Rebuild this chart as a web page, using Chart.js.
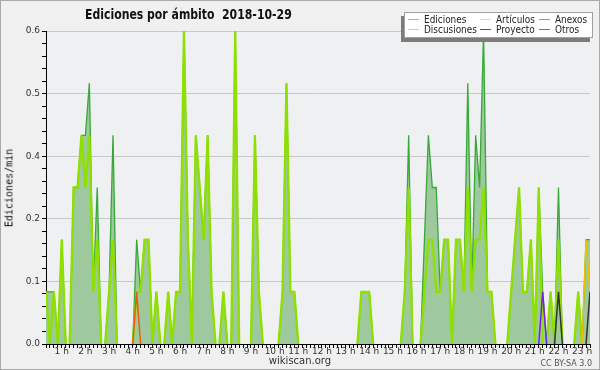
<!DOCTYPE html>
<html>
<head>
<meta charset="utf-8">
<script src="https://cdn.jsdelivr.net/npm/chart.js@4.4.0/dist/chart.umd.min.js"></script>
<style>
  body { margin: 0; background: #f0f0f0; }
  #wrap { position: relative; width: 600px; height: 370px; overflow: hidden; font-family: "DejaVu Sans", sans-serif; color: #111; }
  #chart { position: absolute; left: 0; top: 0; }
  #frame { position: absolute; left: 0; top: 0; width: 600px; height: 370px; box-sizing: border-box; border: 1px solid #a9a9a9; pointer-events: none; }
  #title { position: absolute; left: 85px; top: 6px; font-weight: bold; font-size: 14px; white-space: pre; transform-origin: 0 0; }
  #ytitle { position: absolute; left: 9px; top: 188px; font-family: "DejaVu Sans Mono", monospace; font-size: 10px; transform: translate(-50%, -50%) rotate(-90deg); white-space: nowrap; }
  #legend { position: absolute; left: 404px; top: 12px; width: 189px; height: 26px; box-sizing: border-box; background: #fff; border: 1px solid #a0a0a0; box-shadow: -3px 4px 0 #7c7c7c; }
  .mark { position: absolute; width: 11px; height: 1px; }
  .txt { position: absolute; font-size: 11px; line-height: 11px; white-space: nowrap; transform: translateY(-50%) scaleX(0.81); transform-origin: 0 50%; color: #222; }
  #site { position: absolute; left: 300px; top: 355px; transform: translateX(-50%); font-size: 10px; color: #333; }
  #lic { position: absolute; right: 8px; top: 359px; font-size: 8px; color: #555; }
</style>
</head>
<body>
<div id="wrap">
  <canvas id="chart" width="600" height="370"></canvas>
  <div id="title">Ediciones por ámbito  2018-10-29</div>
  <div id="ytitle">Ediciones/min</div>
  <div id="legend"></div>
  <div id="site">wikiscan.org</div>
  <div id="lic">CC BY-SA 3.0</div>
  <div id="frame"></div>
</div>
<script>
// 10-minute bins, first bin at 00:20, last at 23:20 (edits per minute)
const firstBin = 2;
const binsPerHour = 6;

const ediciones = [
  0.1, 0.1, 0.1, 0, 0.2, 0, 0, 0.3, 0.3, 0.4,
  0.4, 0.5, 0.1, 0.3, 0, 0, 0.1, 0.4, 0, 0, 0, 0,
  0, 0.2, 0.1, 0.2, 0.2, 0, 0.1, 0, 0, 0.1, 0, 0.1,
  0.1, 0.6, 0.2, 0, 0.4, 0.3, 0.2, 0.4, 0.1, 0, 0, 0.1,
  0, 0, 0.6, 0, 0, 0, 0, 0.4, 0.1, 0, 0, 0,
  0, 0, 0.1, 0.5, 0.1, 0.1, 0, 0, 0, 0, 0, 0,
  0, 0, 0, 0, 0, 0, 0, 0, 0, 0, 0.1, 0.1,
  0.1, 0, 0, 0, 0, 0, 0, 0, 0, 0.1, 0.4, 0,
  0, 0, 0.2, 0.4, 0.3, 0.3, 0.1, 0.2, 0.2, 0, 0.2, 0.2,
  0.1, 0.5, 0.1, 0.4, 0.3, 0.6, 0.1, 0.1, 0, 0, 0, 0,
  0.1, 0.2, 0.3, 0.1, 0.1, 0.2, 0, 0.3, 0.1, 0, 0.1, 0,
  0.3, 0, 0, 0, 0, 0.1, 0, 0.2, 0.2
];
const articulos = [
  0.1, 0, 0.1, 0, 0.2, 0, 0, 0.3, 0.3, 0.4,
  0.3, 0.4, 0.1, 0.2, 0, 0, 0.1, 0.2, 0, 0, 0, 0,
  0, 0.1, 0.1, 0.2, 0.2, 0, 0.1, 0, 0, 0.1, 0, 0.1,
  0.1, 0.6, 0.2, 0, 0.4, 0.3, 0.2, 0.4, 0.1, 0, 0, 0.1,
  0, 0, 0.6, 0, 0, 0, 0, 0.4, 0.1, 0, 0, 0,
  0, 0, 0.1, 0.5, 0.1, 0.1, 0, 0, 0, 0, 0, 0,
  0, 0, 0, 0, 0, 0, 0, 0, 0, 0, 0.1, 0.1,
  0.1, 0, 0, 0, 0, 0, 0, 0, 0, 0.1, 0.3, 0,
  0, 0, 0.1, 0.2, 0.2, 0.1, 0.1, 0.2, 0.2, 0, 0.2, 0.2,
  0.1, 0.3, 0.1, 0.2, 0.2, 0.3, 0.1, 0.1, 0, 0, 0, 0,
  0.1, 0.2, 0.3, 0.1, 0.1, 0.2, 0, 0.3, 0, 0, 0.1, 0,
  0.2, 0, 0, 0, 0, 0.1, 0, 0, 0
];
const anexos = [
  0, 0, 0, 0, 0, 0, 0, 0, 0, 0,
  0, 0, 0, 0, 0, 0, 0, 0, 0, 0, 0, 0,
  0, 0.1, 0, 0, 0, 0, 0, 0, 0, 0, 0, 0,
  0, 0, 0, 0, 0, 0, 0, 0, 0, 0, 0, 0,
  0, 0, 0, 0, 0, 0, 0, 0, 0, 0, 0, 0,
  0, 0, 0, 0, 0, 0, 0, 0, 0, 0, 0, 0,
  0, 0, 0, 0, 0, 0, 0, 0, 0, 0, 0, 0,
  0, 0, 0, 0, 0, 0, 0, 0, 0, 0, 0, 0,
  0, 0, 0, 0, 0, 0, 0, 0, 0, 0, 0, 0,
  0, 0, 0, 0, 0, 0, 0, 0, 0, 0, 0, 0,
  0, 0, 0, 0, 0, 0, 0, 0, 0, 0, 0, 0,
  0, 0, 0, 0, 0, 0, 0, 0, 0
];
const discusiones = [
  0, 0, 0, 0, 0, 0, 0, 0, 0, 0,
  0, 0, 0, 0, 0, 0, 0, 0, 0, 0, 0, 0,
  0, 0, 0, 0, 0, 0, 0, 0, 0, 0, 0, 0,
  0, 0, 0, 0, 0, 0, 0, 0, 0, 0, 0, 0,
  0, 0, 0, 0, 0, 0, 0, 0, 0, 0, 0, 0,
  0, 0, 0, 0, 0, 0, 0, 0, 0, 0, 0, 0,
  0, 0, 0, 0, 0, 0, 0, 0, 0, 0, 0, 0,
  0, 0, 0, 0, 0, 0, 0, 0, 0, 0, 0, 0,
  0, 0, 0, 0, 0, 0, 0, 0, 0, 0, 0, 0,
  0, 0, 0, 0, 0, 0, 0, 0, 0, 0, 0, 0,
  0, 0, 0, 0, 0, 0, 0, 0, 0, 0, 0, 0,
  0, 0, 0, 0, 0, 0, 0, 0.2, 0.1
];
const proyecto = [
  0, 0, 0, 0, 0, 0, 0, 0, 0, 0,
  0, 0, 0, 0, 0, 0, 0, 0, 0, 0, 0, 0,
  0, 0, 0, 0, 0, 0, 0, 0, 0, 0, 0, 0,
  0, 0, 0, 0, 0, 0, 0, 0, 0, 0, 0, 0,
  0, 0, 0, 0, 0, 0, 0, 0, 0, 0, 0, 0,
  0, 0, 0, 0, 0, 0, 0, 0, 0, 0, 0, 0,
  0, 0, 0, 0, 0, 0, 0, 0, 0, 0, 0, 0,
  0, 0, 0, 0, 0, 0, 0, 0, 0, 0, 0, 0,
  0, 0, 0, 0, 0, 0, 0, 0, 0, 0, 0, 0,
  0, 0, 0, 0, 0, 0, 0, 0, 0, 0, 0, 0,
  0, 0, 0, 0, 0, 0, 0, 0, 0, 0, 0, 0,
  0.1, 0, 0, 0, 0, 0, 0, 0, 0.1
];
const otros = [
  0, 0, 0, 0, 0, 0, 0, 0, 0, 0,
  0, 0, 0, 0, 0, 0, 0, 0, 0, 0, 0, 0,
  0, 0, 0, 0, 0, 0, 0, 0, 0, 0, 0, 0,
  0, 0, 0, 0, 0, 0, 0, 0, 0, 0, 0, 0,
  0, 0, 0, 0, 0, 0, 0, 0, 0, 0, 0, 0,
  0, 0, 0, 0, 0, 0, 0, 0, 0, 0, 0, 0,
  0, 0, 0, 0, 0, 0, 0, 0, 0, 0, 0, 0,
  0, 0, 0, 0, 0, 0, 0, 0, 0, 0, 0, 0,
  0, 0, 0, 0, 0, 0, 0, 0, 0, 0, 0, 0,
  0, 0, 0, 0, 0, 0, 0, 0, 0, 0, 0, 0,
  0, 0, 0, 0, 0, 0, 0, 0, 0.1, 0, 0, 0,
  0, 0, 0, 0, 0, 0, 0, 0, 0
];

const seriesNames = ["Ediciones", "Artículos", "Anexos", "Discusiones", "Proyecto", "Otros"];
const legendColors = ["#7fcf7f", "#d2ef66", "#f07c48", "#f6d040", "#555555", "#a050e8"];
const lineColors = ["#38a838", "#8fe000", "#f05a10", "#f0c000", "#333333", "#7424e0"];

const yMax = 0.6;
const yMajorStep = 0.12;
const yMinorPerMajor = 5;

function toHour(i) {
  return (firstBin + i) / binsPerHour;
}
function points(values) {
  return values.map((v, i) => ({ x: toHour(i), y: v }));
}
// no line along the baseline where a series has no edits
const hideFlat = {
  borderColor: (ctx) =>
    ctx.p0.parsed.y === 0 && ctx.p1.parsed.y === 0 ? "transparent" : undefined,
};

const xTicks = ediciones.map((v, i) => ({ value: toHour(i) }));
const yTicks = [];
for (let k = 0; k <= (yMax / yMajorStep) * yMinorPerMajor; k++) {
  yTicks.push({ value: (k * yMajorStep) / yMinorPerMajor });
}

const plotBg = {
  id: "plotBg",
  beforeDraw(chart) {
    const { ctx, chartArea: a } = chart;
    ctx.save();
    ctx.fillStyle = "#eff0f2";
    ctx.fillRect(a.left, a.top, a.right - a.left, a.bottom - a.top);
    ctx.restore();
  },
};

function lineSet(idx, values, width, order, extra) {
  return Object.assign(
    {
      label: seriesNames[idx],
      data: points(values),
      borderColor: lineColors[idx],
      borderWidth: width,
      pointRadius: 0,
      tension: 0,
      fill: false,
      order: order,
      segment: hideFlat,
    },
    extra || {}
  );
}

new Chart(document.getElementById("chart"), {
  type: "line",
  data: {
    datasets: [
      lineSet(0, ediciones, 1.3, 6, { fill: "origin", backgroundColor: "#9ec99e" }),
      lineSet(1, articulos, 2.3, 5),
      lineSet(2, anexos, 1.5, 4),
      lineSet(3, discusiones, 1.5, 3),
      lineSet(4, proyecto, 1.5, 2),
      lineSet(5, otros, 1.5, 1),
    ],
  },
  options: {
    responsive: false,
    animation: false,
    events: [],
    layout: { padding: { left: 0, right: 10, top: 31, bottom: 0 } },
    plugins: { legend: { display: false }, tooltip: { enabled: false } },
    scales: {
      x: {
        type: "linear",
        min: toHour(0),
        max: toHour(ediciones.length - 1),
        afterBuildTicks: (scale) => { scale.ticks = xTicks.slice(); },
        afterFit: (scale) => { scale.height = 26; },
        border: { color: "#000", width: 1 },
        grid: { drawOnChartArea: false, drawTicks: true, tickLength: 4, tickColor: "#000" },
        ticks: {
          autoSkip: false,
          maxRotation: 0,
          padding: -2,
          color: "#333",
          font: { family: "'DejaVu Sans'", size: 9 },
          callback: (v) => {
            const m = Math.round(v * binsPerHour);
            return m % binsPerHour === 0 ? m / binsPerHour + " h" : "";
          },
        },
      },
      y: {
        min: 0,
        max: yMax,
        afterBuildTicks: (scale) => { scale.ticks = yTicks.slice(); },
        afterFit: (scale) => { scale.width = 46; },
        border: { color: "#000", width: 1 },
        grid: {
          color: (ctx) => (ctx.index % yMinorPerMajor === 0 ? "#c8c8c8" : "transparent"),
          drawTicks: true,
          tickLength: 4,
          tickColor: "#000",
        },
        ticks: {
          autoSkip: false,
          padding: 2,
          color: "#333",
          font: { family: "'DejaVu Sans'", size: 9 },
          callback: (v, i) => (i % yMinorPerMajor === 0 ? v.toFixed(1) : ""),
        },
      },
    },
  },
  plugins: [plotBg],
});

// squeeze the title to the width it has in the original (about 207px)
const title = document.getElementById("title");
title.style.transform = "scaleX(" + (207 / title.offsetWidth) + ")";

// legend: three columns, two rows (positions inside the white box)
const legendCols = [[3, 19], [75, 91], [134, 150]];
const legendRows = [6, 16];
const legend = document.getElementById("legend");
seriesNames.forEach((name, s) => {
  const col = legendCols[s % 3];
  const y = legendRows[Math.floor(s / 3)];
  const mark = document.createElement("div");
  mark.className = "mark";
  mark.style.left = col[0] + "px";
  mark.style.top = y + "px";
  mark.style.background = legendColors[s];
  const txt = document.createElement("div");
  txt.className = "txt";
  txt.style.left = col[1] + "px";
  txt.style.top = y + "px";
  txt.textContent = name;
  legend.appendChild(mark);
  legend.appendChild(txt);
});
</script>
</body>
</html>
